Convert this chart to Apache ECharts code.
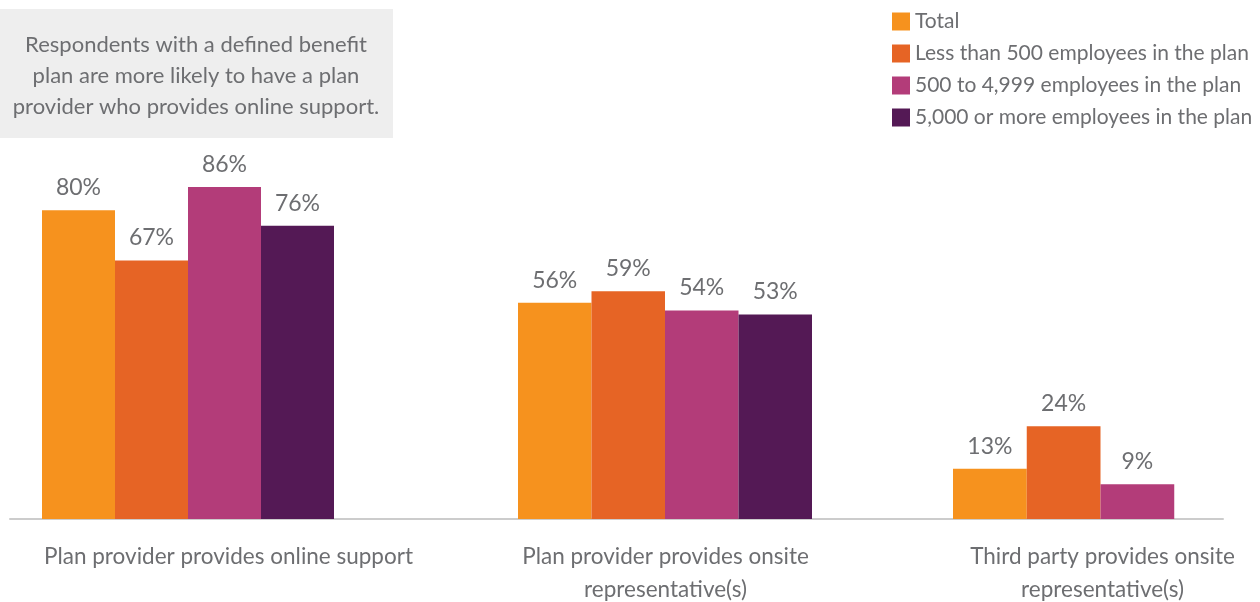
<!DOCTYPE html>
<html>
<head>
<meta charset="utf-8">
<script src="https://cdn.jsdelivr.net/npm/echarts@6/dist/echarts.min.js"></script>
<style>
html,body{margin:0;padding:0;background:#fff;}
#chart{width:1260px;height:602px;}
</style>
</head>
<body>
<div id="chart"></div>
<script>
// ---- data ----
const categories = [
  'Plan provider provides online support',
  'Plan provider provides onsite\nrepresentative(s)',
  'Third party provides onsite\nrepresentative(s)'
];
const seriesNames = [
  'Total',
  'Less than 500 employees in the plan',
  '500 to 4,999 employees in the plan',
  '5,000 or more employees in the plan'
];
const total = [80, 56, 13];
const lessThan500 = [67, 59, 24];
const from500to4999 = [86, 54, 9];
const over5000 = [76, 53, null];
const noteText = 'Respondents with a defined benefit\nplan are more likely to have a plan\nprovider who provides online support.';

// ---- styling ----
const values = [total, lessThan500, from500to4999, over5000];
const colors = ['#F6921E', '#E66425', '#B33C79', '#541955'];
const FONT = 'Lato';
const TEXT = '#6d6e71';
const GRID_TOP = 133, GRID_H = 386;
const groupLeft = [42, 518, 953];
const groupWidth = [292, 294, 295];

const grids = [
  {left: 10, width: 1311, top: GRID_TOP, height: GRID_H, outerBoundsMode: 'none', containLabel: false}, // category labels
  {left: 10, width: 1213, top: GRID_TOP, height: GRID_H, outerBoundsMode: 'none', containLabel: false}  // baseline
];
const xAxes = [
  {gridIndex: 0, type: 'category', data: categories,
   axisLine: {show: false}, axisTick: {show: false},
   axisLabel: {interval: 0, hideOverlap: false, color: TEXT, fontFamily: FONT, fontSize: 22.5, lineHeight: 33, margin: 21}},
  {gridIndex: 1, type: 'category', data: [''],
   axisLine: {lineStyle: {color: '#cccccc', width: 2}}, axisTick: {show: false}, axisLabel: {show: false}}
];
const yAxes = [
  {gridIndex: 0, type: 'value', min: 0, max: 100, show: false},
  {gridIndex: 1, type: 'value', min: 0, max: 100, show: false}
];
const series = [];
categories.forEach((cat, i) => {
  grids.push({left: groupLeft[i], width: groupWidth[i], top: GRID_TOP, height: GRID_H, outerBoundsMode: 'none', containLabel: false});
  const gi = grids.length - 1;
  xAxes.push({gridIndex: gi, type: 'category', data: [cat], show: false});
  yAxes.push({gridIndex: gi, type: 'value', min: 0, max: 100, show: false});
  values.forEach((arr, s) => {
    series.push({
      type: 'bar', name: seriesNames[s], xAxisIndex: gi, yAxisIndex: gi,
      data: [arr[i]], barGap: '0%', barCategoryGap: '0%',
      itemStyle: {color: colors[s]},
      emphasis: {disabled: true},
      label: {show: arr[i] != null, position: 'top', distance: 11, formatter: '{c}%',
              color: TEXT, fontFamily: FONT, fontSize: 23}
    });
  });
});

const chart = echarts.init(document.getElementById('chart'), null, {renderer: 'canvas'});
chart.setOption({
  animation: false,
  color: colors,
  grid: grids,
  xAxis: xAxes,
  yAxis: yAxes,
  legend: {
    data: seriesNames, orient: 'vertical', left: 892, top: 11, padding: 0,
    icon: 'rect', itemWidth: 18, itemHeight: 18, itemGap: 11,
    textStyle: {color: TEXT, fontFamily: FONT, fontSize: 21}, selectedMode: false
  },
  graphic: [
    {type: 'rect', shape: {x: 0, y: 9, width: 393, height: 129}, style: {fill: '#eeeeee'}, silent: true},
    {type: 'text', x: 196, y: 76, silent: true,
     style: {text: noteText, align: 'center', verticalAlign: 'middle', fill: TEXT,
             font: '22px ' + FONT, lineHeight: 31}}
  ],
  series: series
});
</script>
</body>
</html>
